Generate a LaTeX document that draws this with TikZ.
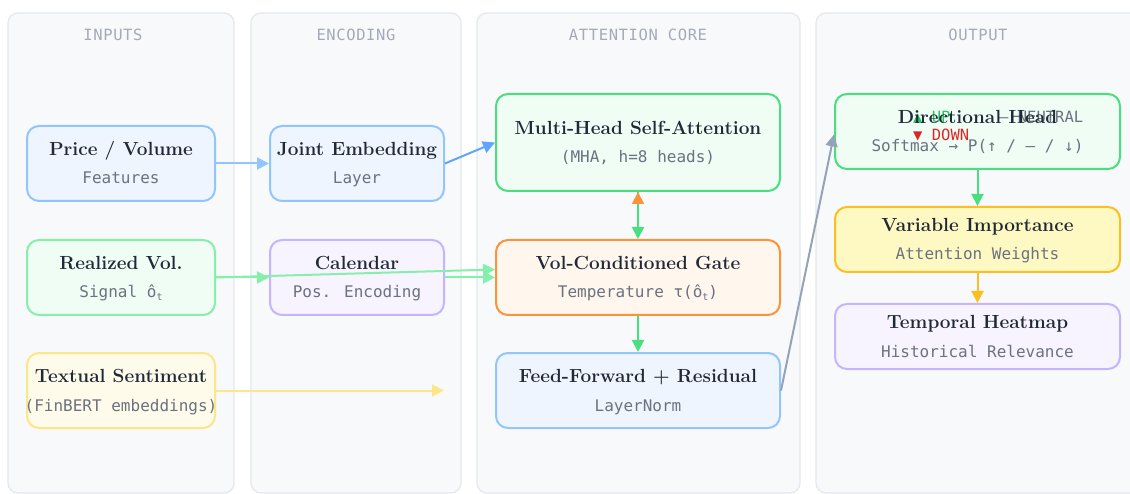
\documentclass[tikz,border=0pt]{standalone}
\usepackage{fontspec}
\usetikzlibrary{arrows.meta}
\newfontfamily\dmono{DejaVu Sans Mono}
\newfontfamily\hmono{DejaVu Sans Mono}[LetterSpace=4]
\definecolor{paneFill}{HTML}{F8F9FB}
\definecolor{paneLine}{HTML}{E4E7EC}
\definecolor{headC}{HTML}{A3AAB8}
\definecolor{titleC}{HTML}{1F2937}
\definecolor{subC}{HTML}{6B7280}
\definecolor{bLine}{HTML}{93C5FD}\definecolor{bFill}{HTML}{EEF5FF}
\definecolor{bDark}{HTML}{60A5FA}
\definecolor{gLine}{HTML}{86EFAC}\definecolor{gFill}{HTML}{EFFDF4}
\definecolor{gStrong}{HTML}{4ADE80}
\definecolor{yLine}{HTML}{FDE68A}\definecolor{yFill}{HTML}{FFFBEB}
\definecolor{pLine}{HTML}{C4B5FD}\definecolor{pFill}{HTML}{F7F3FF}
\definecolor{oLine}{HTML}{FB923C}\definecolor{oFill}{HTML}{FFF7ED}
\definecolor{aLine}{HTML}{FBBF24}\definecolor{aFill}{HTML}{FEF9C3}
\definecolor{grayArr}{HTML}{94A3B8}
\definecolor{upC}{HTML}{22C55E}
\definecolor{downC}{HTML}{DC2626}
\newcommand\subt{\raisebox{-2.5pt}{\fontsize{10}{10}\selectfont t}}
\tikzset{
  pane/.style={fill=paneFill,draw=paneLine,line width=1.2pt,rounded corners=10pt},
  head/.style={text=headC,font=\hmono\fontsize{15.5}{18}\selectfont,inner sep=0pt},
  boxbase/.style={rounded corners=12pt,line width=2pt,inner sep=0pt},
  bluebox/.style={boxbase,draw=bLine,fill=bFill},
  greenbox/.style={boxbase,draw=gLine,fill=gFill},
  gstrongbox/.style={boxbase,draw=gStrong,fill=gFill},
  yellowbox/.style={boxbase,draw=yLine,fill=yFill},
  purplebox/.style={boxbase,draw=pLine,fill=pFill},
  orangebox/.style={boxbase,draw=oLine,fill=oFill},
  amberbox/.style={boxbase,draw=aLine,fill=aFill},
  ttl/.style={text=titleC,font=\fontsize{19}{21}\selectfont\bfseries,inner sep=0pt,text height=13pt,text depth=3.5pt},
  sbt/.style={text=subC,font=\dmono\fontsize{16}{18}\selectfont,inner sep=0pt,text height=11pt,text depth=3pt},
  lbl/.style={font=\dmono\fontsize{15.5}{18}\selectfont,inner sep=0pt,anchor=base west},
  arr/.style={line width=2pt,-{Triangle[length=12pt,width=12pt]}},
}
\newcommand\mkbox[6]{% name, cx, cy, w, h, style
  \node[#6,minimum width=#4pt,minimum height=#5pt] (#1) at (#2,#3) {};}
\newcommand\mktext[3]{% name, title, sub
  \node[ttl] (#1-t) at ([yshift=12.5pt]#1.center) {#2};
  \node[sbt] (#1-s) at ([yshift=-16.5pt]#1.center) {#3};}
\begin{document}
\begin{tikzpicture}[x=1pt,y=-1pt]
\useasboundingbox[fill=white] (0,0) rectangle (1130,494);
% panels
\begin{scope}
\clip (0,0) rectangle (1130,494);
\draw[pane] (8,13) rectangle (234,493);
\draw[pane] (251,13) rectangle (461,493);
\draw[pane] (477,13) rectangle (800,493);
\draw[pane] (816,13) rectangle (1145,493);
\end{scope}
\node[head] (h1) at (113,35) {INPUTS};
\node[head] (h2) at (356,35) {ENCODING};
\node[head] (h3) at (638,35) {ATTENTION CORE};
\node[head] (h4) at (978,35) {OUTPUT};
% boxes
\mkbox{price}{121}{163.5}{188}{75}{bluebox}
\mkbox{real}{121}{277.5}{188}{75}{greenbox}
\mkbox{text}{121}{390.5}{188}{75}{yellowbox}
\mkbox{joint}{357}{163.5}{174}{75}{bluebox}
\mkbox{cal}{357}{277.5}{174}{75}{purplebox}
\mkbox{mha}{638}{142.5}{284}{97}{gstrongbox}
\mkbox{gate}{638}{277.5}{284}{75}{orangebox}
\mkbox{ff}{638}{390.5}{284}{75}{bluebox}
\mkbox{dir}{977.5}{131.5}{285}{75}{gstrongbox}
\mkbox{var}{977.5}{239.5}{285}{65}{amberbox}
\mkbox{temp}{977.5}{336.5}{285}{65}{purplebox}
% texts
\mktext{price}{Price / Volume}{Features}
\mktext{real}{Realized Vol.}{Signal ô\subt}
\mktext{text}{Textual Sentiment}{(FinBERT embeddings)}
\mktext{joint}{Joint Embedding}{Layer}
\mktext{cal}{Calendar}{Pos. Encoding}
\mktext{mha}{Multi-Head Self-Attention}{(MHA, h=8 heads)}
\mktext{gate}{Vol-Conditioned Gate}{Temperature τ(ô\subt)}
\mktext{ff}{Feed-Forward + Residual}{LayerNorm}
\node[lbl,text=upC] (lup) at (913,123) {▲ UP};
\node[lbl,text=subC] (lneu) at (999,123) {— NEUTRAL};
\node[lbl,text=downC] (ldown) at (913,141) {▼ DOWN};
\mktext{dir}{Directional Head}{Softmax → P(↑ / — / ↓)}
\mktext{var}{Variable Importance}{Attention Weights}
\mktext{temp}{Temporal Heatmap}{Historical Relevance}
% connectors
\draw[arr,draw=bLine] (price.east) -- (joint.west);
\draw[arr,draw=bDark] (joint.east) -- (mha.west);
\draw[arr,draw=gLine] (real.east) -- (cal.west);
\draw[arr,draw=gLine] (real.east) -- ([yshift=8pt]gate.west);
\draw[arr,draw=gLine] (cal.east) -- (gate.west);
\coordinate (textend) at (444,390.5);
\draw[arr,draw=yLine] (text.east) -- (textend);
\draw[arr,draw=gStrong] (mha.south) -- (gate.north);
\draw[arr,draw=oLine,shorten <=36pt] (gate.north) -- (mha.south);
\draw[arr,draw=gStrong] (gate.south) -- (ff.north);
\draw[arr,draw=grayArr] (ff.east) -- ([yshift=-3pt]dir.west);
\draw[arr,draw=gStrong] (dir.south) -- (var.north);
\draw[arr,draw=aLine] (var.south) -- (temp.north);
\end{tikzpicture}
\end{document}
